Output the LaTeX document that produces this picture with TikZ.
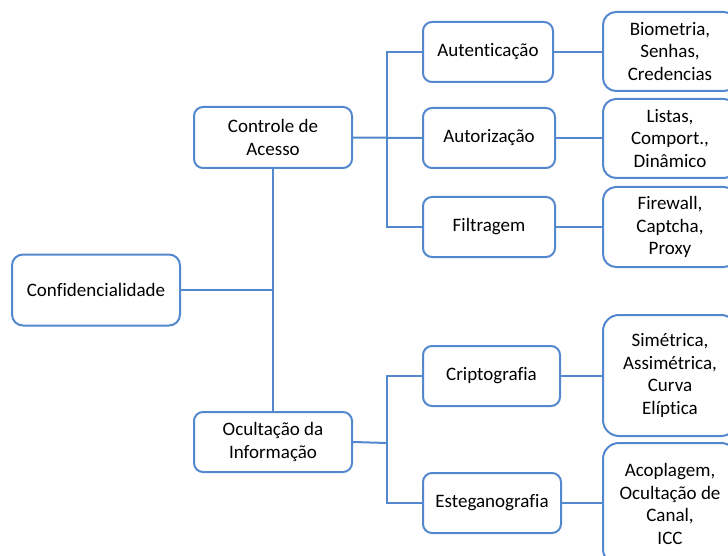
\documentclass[tikz,border=0pt]{standalone}
\usepackage{fontspec}
\setmainfont[Ligatures=NoCommon]{Carlito}
\definecolor{linkblue}{RGB}{84,136,206}
\begin{document}
\begin{tikzpicture}[x=1pt,y=-1pt,
  every node/.style={font=\fontsize{19}{22.5}\selectfont},
  box/.style={draw=linkblue, line width=2pt, fill=white, rounded corners=9pt,
    align=center, inner sep=0pt},
  tallbox/.style={box, rounded corners=16pt},
  link/.style={draw=linkblue, line width=2pt}]
\useasboundingbox (0,0) rectangle (728,556);
\clip (0,0) rectangle (728,556);

% root and first level
\node[box, minimum width=168pt, minimum height=71pt, rounded corners=11pt] (conf) at (96,290) {Confidencialidade};
\node[box, minimum width=158pt, minimum height=61pt] (ctrl) at (273,137.5) {Controle de\\Acesso};
\node[box, minimum width=158pt, minimum height=60pt] (ocul) at (273,442) {Ocultação da\\Informação};

% second level
\node[box, minimum width=130pt, minimum height=60pt] (aut) at (488,52) {Autenticação};
\node[box, minimum width=132pt, minimum height=60pt] (autz) at (489,138) {Autorização};
\node[box, minimum width=132pt, minimum height=60pt] (filt) at (489,227) {Filtragem};
\node[box, minimum width=137pt, minimum height=60pt] (crip) at (491.5,376) {Criptografia};
\node[box, minimum width=138pt, minimum height=60pt] (este) at (492,503) {Esteganografia};

% leaves
\node[box, minimum width=134pt, minimum height=79pt, rounded corners=13pt] (bio) at (670,51.5) {Biometria,\\Senhas,\\Credencias};
\node[box, minimum width=134pt, minimum height=79pt, rounded corners=13pt] (lis) at (670,138.5) {Listas,\\Comport.,\\Dinâmico};
\node[box, minimum width=134pt, minimum height=80pt, rounded corners=13pt] (fire) at (670,227) {Firewall,\\Captcha,\\Proxy};
\node[tallbox, minimum width=134pt, minimum height=121pt] (sim) at (670,375.5) {Simétrica,\\Assimétrica,\\Curva\\Elíptica};
\node[tallbox, minimum width=134pt, minimum height=122pt] (aco) at (670,504) {Acoplagem,\\Ocultação de\\Canal,\\ICC};

% bus junctions
\coordinate (b1) at (387,138);
\coordinate (b2) at (387,443);

% connectors
\draw[link] (ctrl.south) -- (ocul.north);
\draw[link] (conf.east) -- (conf.east -| ctrl.south);
\draw[link] (ctrl.east) -- (autz.west);
\draw[link] (aut.west) -| (b1);
\draw[link] (filt.west) -| (b1);
\draw[link] (ocul.east) -- (b2);
\draw[link] (crip.west) -| (b2);
\draw[link] (este.west) -| (b2);
\draw[link] (aut.east) -- (aut.east -| bio.west);
\draw[link] (autz.east) -- (autz.east -| lis.west);
\draw[link] (filt.east) -- (filt.east -| fire.west);
\draw[link] (crip.east) -- (crip.east -| sim.west);
\draw[link] (este.east) -- (este.east -| aco.west);
\end{tikzpicture}
\end{document}
